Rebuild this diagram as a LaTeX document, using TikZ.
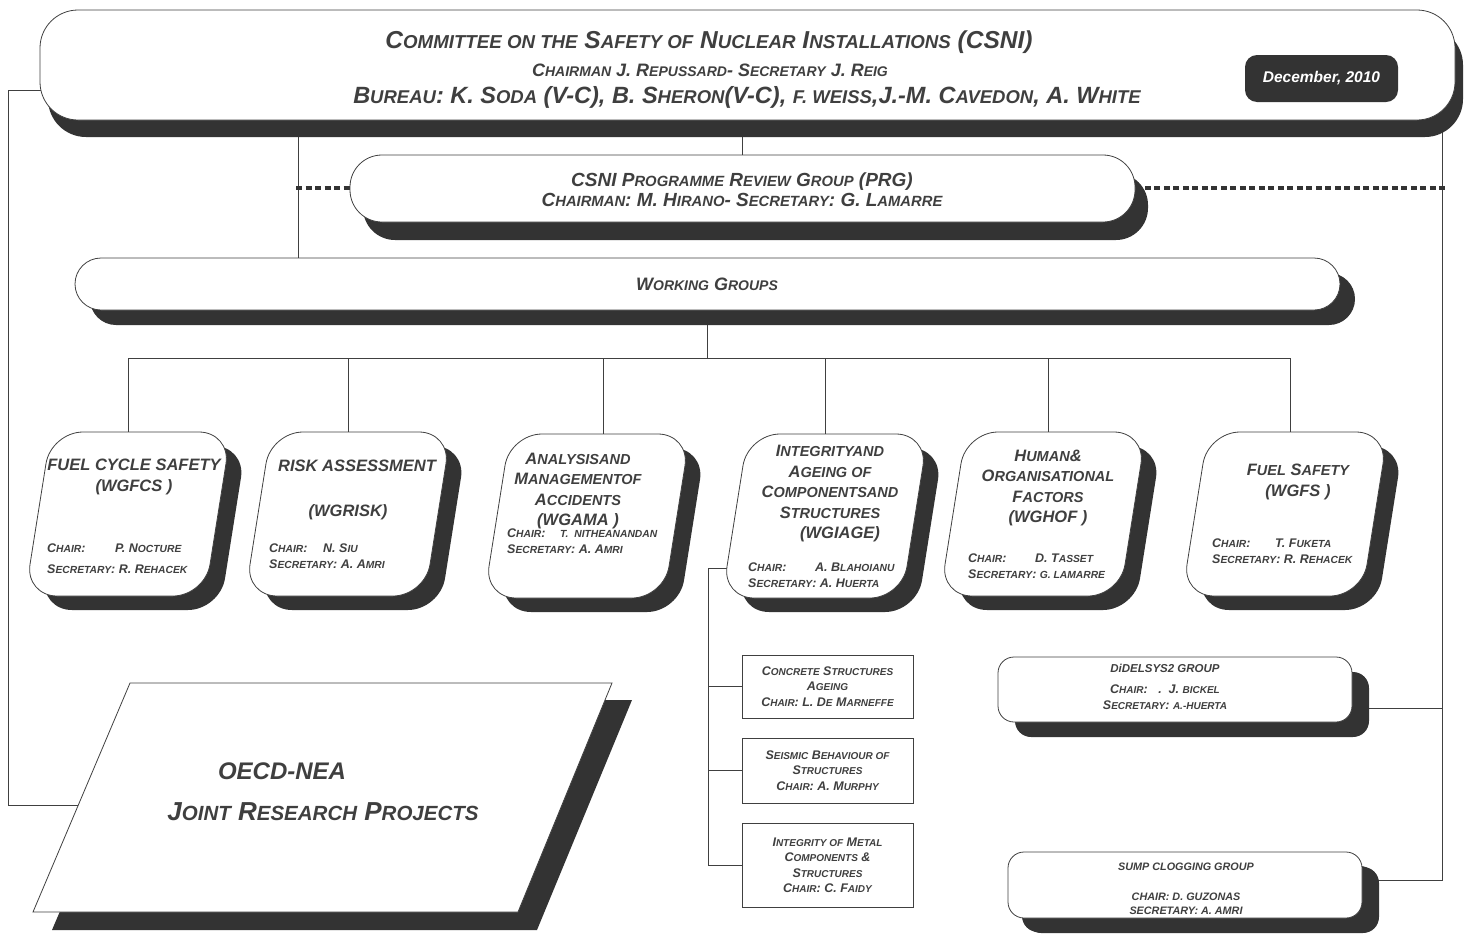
\documentclass[tikz,border=0pt]{standalone}
\usepackage{fontspec}
\setmainfont{Liberation Sans}
\usetikzlibrary{shadows,backgrounds}
\definecolor{shd}{HTML}{333333}
\definecolor{txt}{HTML}{3F3F3F}
\definecolor{ln}{HTML}{404040}
\def\smsz{8}
\newcommand\sm[1]{{\fontsize{\smsz}{\smsz}\selectfont #1}}
\tikzset{
  every node/.style={text=txt, inner sep=0pt},
  conn/.style={draw=ln, line width=0.8pt},
  dots/.style={draw=shd, line width=3.5pt, dash pattern=on 6pt off 3.5pt},
  hdrbox/.style={draw=ln, line width=0.8pt, fill=white, rounded corners=38pt,
    minimum width=1415pt, minimum height=110pt,
    drop shadow={shadow xshift=8pt, shadow yshift=-17pt, fill=shd, opacity=1}},
  prgbox/.style={draw=ln, line width=0.8pt, fill=white, rounded corners=32pt,
    minimum width=785pt, minimum height=67pt,
    drop shadow={shadow xshift=13pt, shadow yshift=-18pt, fill=shd, opacity=1}},
  wgbox/.style={draw=ln, line width=0.8pt, fill=white, rounded corners=26pt,
    minimum width=1265pt, minimum height=52pt,
    drop shadow={shadow xshift=15pt, shadow yshift=-15pt, fill=shd, opacity=1}},
  smallbox/.style={draw=ln, line width=0.8pt, fill=white, rounded corners=16pt,
    minimum width=354pt, minimum height=65pt,
    drop shadow={shadow xshift=17pt, shadow yshift=-15pt, fill=shd, opacity=1}},
  datebox/.style={fill=shd, rounded corners=12pt, minimum width=153pt, minimum height=47pt,
    text=white, font=\fontsize{15.5}{18}\selectfont\bfseries\itshape},
  subbox/.style={draw=ln, line width=0.8pt, fill=white, minimum width=171pt,
    align=center, font={\def\smsz{10}\fontsize{12.5}{15.5}\selectfont\bfseries\itshape}},
  wganchor/.style={minimum width=180pt, minimum height=164pt},
  hdrA/.style={font={\def\smsz{18.7}\fontsize{24.5}{28}\selectfont\bfseries\itshape}},
  hdrB/.style={font={\def\smsz{14}\fontsize{18}{22}\selectfont\bfseries\itshape}},
  hdrC/.style={font={\def\smsz{18.5}\fontsize{23.5}{26}\selectfont\bfseries\itshape}},
  prgtext/.style={align=center, font={\def\smsz{14.8}\fontsize{19}{20}\selectfont\bfseries\itshape}},
  wgtext/.style={font={\def\smsz{14}\fontsize{18}{20}\selectfont\bfseries\itshape}},
  wgtitle/.style={align=center, font={\def\smsz{14.5}\fontsize{16.5}{20.5}\selectfont\bfseries\itshape}},
  wgchair/.style={anchor=west, align=left, font={\def\smsz{10.3}\fontsize{12.5}{16}\selectfont\bfseries\itshape}},
  grptext/.style={align=center, font={\def\smsz{10}\fontsize{12.5}{16}\selectfont\bfseries\itshape}},
  jrpA/.style={font=\fontsize{24}{28}\selectfont\bfseries\itshape},
  jrpB/.style={font={\def\smsz{20.5}\fontsize{26}{30}\selectfont\bfseries\itshape}},
  wgshape/.pic={
    \fill[shd, rounded corners=32pt] (-62,-68) -- (118,-68) -- (92,96) -- (-88,96) -- cycle;
    \draw[ln, line width=0.8pt, fill=white, rounded corners=32pt] (-77,-82) -- (103,-82) -- (77,82) -- (-103,82) -- cycle;
  }
}
\begin{document}
\begin{tikzpicture}[x=1pt,y=-1pt]
\useasboundingbox (0,0) rectangle (1464,938);

% ---------- header ----------
\node[hdrbox] (csni) at (747.5,65) {};
\node[hdrA] (csniT1) at (709,42) {C\sm{OMMITTEE ON THE} S\sm{AFETY OF} N\sm{UCLEAR} I\sm{NSTALLATIONS} (CSNI)};
\node[hdrB] (csniT2) at (710,70) {C\sm{HAIRMAN} J. R\sm{EPUSSARD}- S\sm{ECRETARY} J. R\sm{EIG}};
\node[hdrC] (csniT3) at (747,97) {B\sm{UREAU}: K. S\sm{ODA} (V-C), B. S\sm{HERON}(V-C), \sm{F. WEISS},J.-M. C\sm{AVEDON}, A. W\sm{HITE}};
\node[datebox] (date) at (1321.5,78.5) {December, 2010};

% ---------- PRG ----------
\node[prgbox] (prg) at (742.5,188.5) {};
\node[prgtext] (prgT) at (742,190) {CSNI P\sm{ROGRAMME} R\sm{EVIEW} G\sm{ROUP} (PRG)\\C\sm{HAIRMAN}: M. H\sm{IRANO}- S\sm{ECRETARY}: G. L\sm{AMARRE}};

% ---------- Working groups ----------
\node[wgbox] (wg) at (707.5,284) {};
\node[wgtext] (wgT) at (707,284) {W\sm{ORKING} G\sm{ROUPS}};

% ---------- WG boxes ----------
\node[wganchor] (fcs) at (128,514) {};
\node[wganchor] (risk) at (348,514) {};
\node[wganchor] (ama) at (587,516) {};
\node[wganchor] (iage) at (825,516) {};
\node[wganchor] (hof) at (1043,514) {};
\node[wganchor] (fs) at (1285,514) {};
\pic at (fcs.center) {wgshape};
\pic at (risk.center) {wgshape};
\pic at (ama.center) {wgshape};
\pic at (iage.center) {wgshape};
\pic at (hof.center) {wgshape};
\pic at (fs.center) {wgshape};

\node[wgtitle] (fcsT) at (134,477) {FUEL CYCLE SAFETY\\(WGFCS )};
\node[wgchair] (fcsC) at (47,559) {\makebox[68pt][l]{C\sm{HAIR}:}P. N\sm{OCTURE}\\[5pt]S\sm{ECRETARY}: R. R\sm{EHACEK}};

\node[wgtitle] (riskT) at (357,466) {RISK ASSESSMENT};
\node[wgtitle] (riskT2) at (348,512) {(WGRISK)};
\node[wgchair] (riskC) at (269,556) {\makebox[54pt][l]{C\sm{HAIR}:}N. S\sm{IU}\\S\sm{ECRETARY}: A. A\sm{MRI}};

\node[wgtitle] (amaT) at (578,491) {A\sm{NALYSIS}\sm{AND}\\M\sm{ANAGEMENT}\sm{OF}\\A\sm{CCIDENTS}\\(WGAMA )};
\node[wgchair] (amaC) at (507,541) {\makebox[53pt][l]{C\sm{HAIR}:}\sm{T.\ \ NITHEANANDAN}\\S\sm{ECRETARY}: A. A\sm{MRI}};

\node[wgtitle] (iageT) at (830,494) {I\sm{NTEGRITY}\sm{AND}\\A\sm{GEING OF}\\C\sm{OMPONENTS}\sm{AND}\\S\sm{TRUCTURES}\\\hspace*{20pt}(WGIAGE)};
\node[wgchair] (iageC) at (748,575) {\makebox[67pt][l]{C\sm{HAIR}:}A. B\sm{LAHOIANU}\\S\sm{ECRETARY}: A. H\sm{UERTA}};

\node[wgtitle] (hofT) at (1048,488) {H\sm{UMAN}\&\\O\sm{RGANISATIONAL}\\F\sm{ACTORS}\\(WGHOF )};
\node[wgchair] (hofC) at (968,566) {\makebox[67pt][l]{C\sm{HAIR}:}D. T\sm{ASSET}\\S\sm{ECRETARY}: \sm{G. LAMARRE}};

\node[wgtitle] (fsT) at (1298,482) {F\sm{UEL} S\sm{AFETY}\\(WGFS )};
\node[wgchair] (fsC) at (1212,551) {\makebox[63pt][l]{C\sm{HAIR}:}T. F\sm{UKETA}\\S\sm{ECRETARY}: R. R\sm{EHACEK}};

% ---------- WGIAGE sub-groups ----------
\node[subbox, minimum height=63pt] (conc) at (827.5,686.5) {C\sm{ONCRETE} S\sm{TRUCTURES}\\A\sm{GEING}\\C\sm{HAIR}: L. D\sm{E} M\sm{ARNEFFE}};
\node[subbox, minimum height=65pt] (seis) at (827.5,770.5) {S\sm{EISMIC} B\sm{EHAVIOUR OF}\\S\sm{TRUCTURES}\\C\sm{HAIR}: A. M\sm{URPHY}};
\node[subbox, minimum height=84pt] (metal) at (827.5,865) {I\sm{NTEGRITY OF} M\sm{ETAL}\\C\sm{OMPONENTS} \&\\S\sm{TRUCTURES}\\C\sm{HAIR}: C. F\sm{AIDY}};

% ---------- DiDELSYS2 and Sump ----------
\node[smallbox] (didel) at (1175,689.5) {};
\node[grptext] (didelT) at (1165,687) {{\fontsize{11.5}{12}\selectfont DiDELSYS2 GROUP}\\[5pt]C\sm{HAIR}:\ \ \ .\ \ J. \sm{BICKEL}\\S\sm{ECRETARY}: \sm{A.-HUERTA}};
\node[smallbox, minimum height=66pt, drop shadow={shadow xshift=14pt, shadow yshift=-14pt, fill=shd, opacity=1}] (sump) at (1185,885) {};
\node[grptext, font={\fontsize{10.8}{14}\selectfont\bfseries\itshape}] (sumpT) at (1186,889) {SUMP CLOGGING GROUP\\[16pt]CHAIR: D. GUZONAS\\SECRETARY: A. AMRI};

% ---------- Joint research projects ----------
\fill[shd] (150,700) -- (632,700) -- (537,930) -- (52,930) -- cycle;
\draw[ln, line width=0.8pt, fill=white] (130,683) -- (612,683) -- (518,912) -- (33,912) -- cycle;
\node[jrpA] (jrp1) at (282,771) {OECD-NEA};
\node[jrpB] (jrp2) at (323,812) {J\sm{OINT} R\sm{ESEARCH} P\sm{ROJECTS}};
\coordinate (jrpL) at (80,805);

% ---------- connectors (behind everything) ----------
\coordinate (csniL) at (60,90);
\coordinate (rtop) at (1442,120);
\coordinate (sumpR) at (1442,880);
\coordinate (didelR) at (1442,708);
\coordinate (bus) at (708,358);
\coordinate (iageL) at (708,568);
\coordinate (dotL) at (296,188);
\coordinate (dotR) at (1446,188);
\begin{scope}[on background layer]
  \draw[conn] (csniL) -- (8,90) -- (8,805) -- (jrpL);
  \draw[conn] (csni.south -| 298,0) -- (wg.north -| 298,0);
  \draw[conn] (csni.south -| prg.north) -- (prg.north);
  \draw[conn] (rtop) -- (sumpR) -- (sump.east |- sumpR);
  \draw[conn] (didelR) -- (didel.east |- didelR);
  \draw[dots] (dotL) -- (prg.west |- dotL);
  \draw[dots] (prg.east |- dotR) -- (dotR);
  \draw[conn] (wg.south) -- (wg.south |- bus);
  \draw[conn] (fcs.north |- bus) -- ([xshift=5pt]fs.north |- bus);
  \draw[conn] (fcs.north |- bus) -- (fcs.north);
  \draw[conn] (risk.north |- bus) -- (risk.north);
  \draw[conn] ([xshift=16pt]ama.north |- bus) -- ([xshift=16pt]ama.north);
  \draw[conn] (iage.north |- bus) -- (iage.north);
  \draw[conn] ([xshift=5pt]hof.north |- bus) -- ([xshift=5pt]hof.north);
  \draw[conn] ([xshift=5pt]fs.north |- bus) -- ([xshift=5pt]fs.north);
  \draw[conn] (iage.west |- iageL) -- (iageL) -- (iageL |- metal.west) -- (metal.west);
  \draw[conn] (iageL |- conc.west) -- (conc.west);
  \draw[conn] (iageL |- seis.west) -- (seis.west);
\end{scope}
\end{tikzpicture}
\end{document}
